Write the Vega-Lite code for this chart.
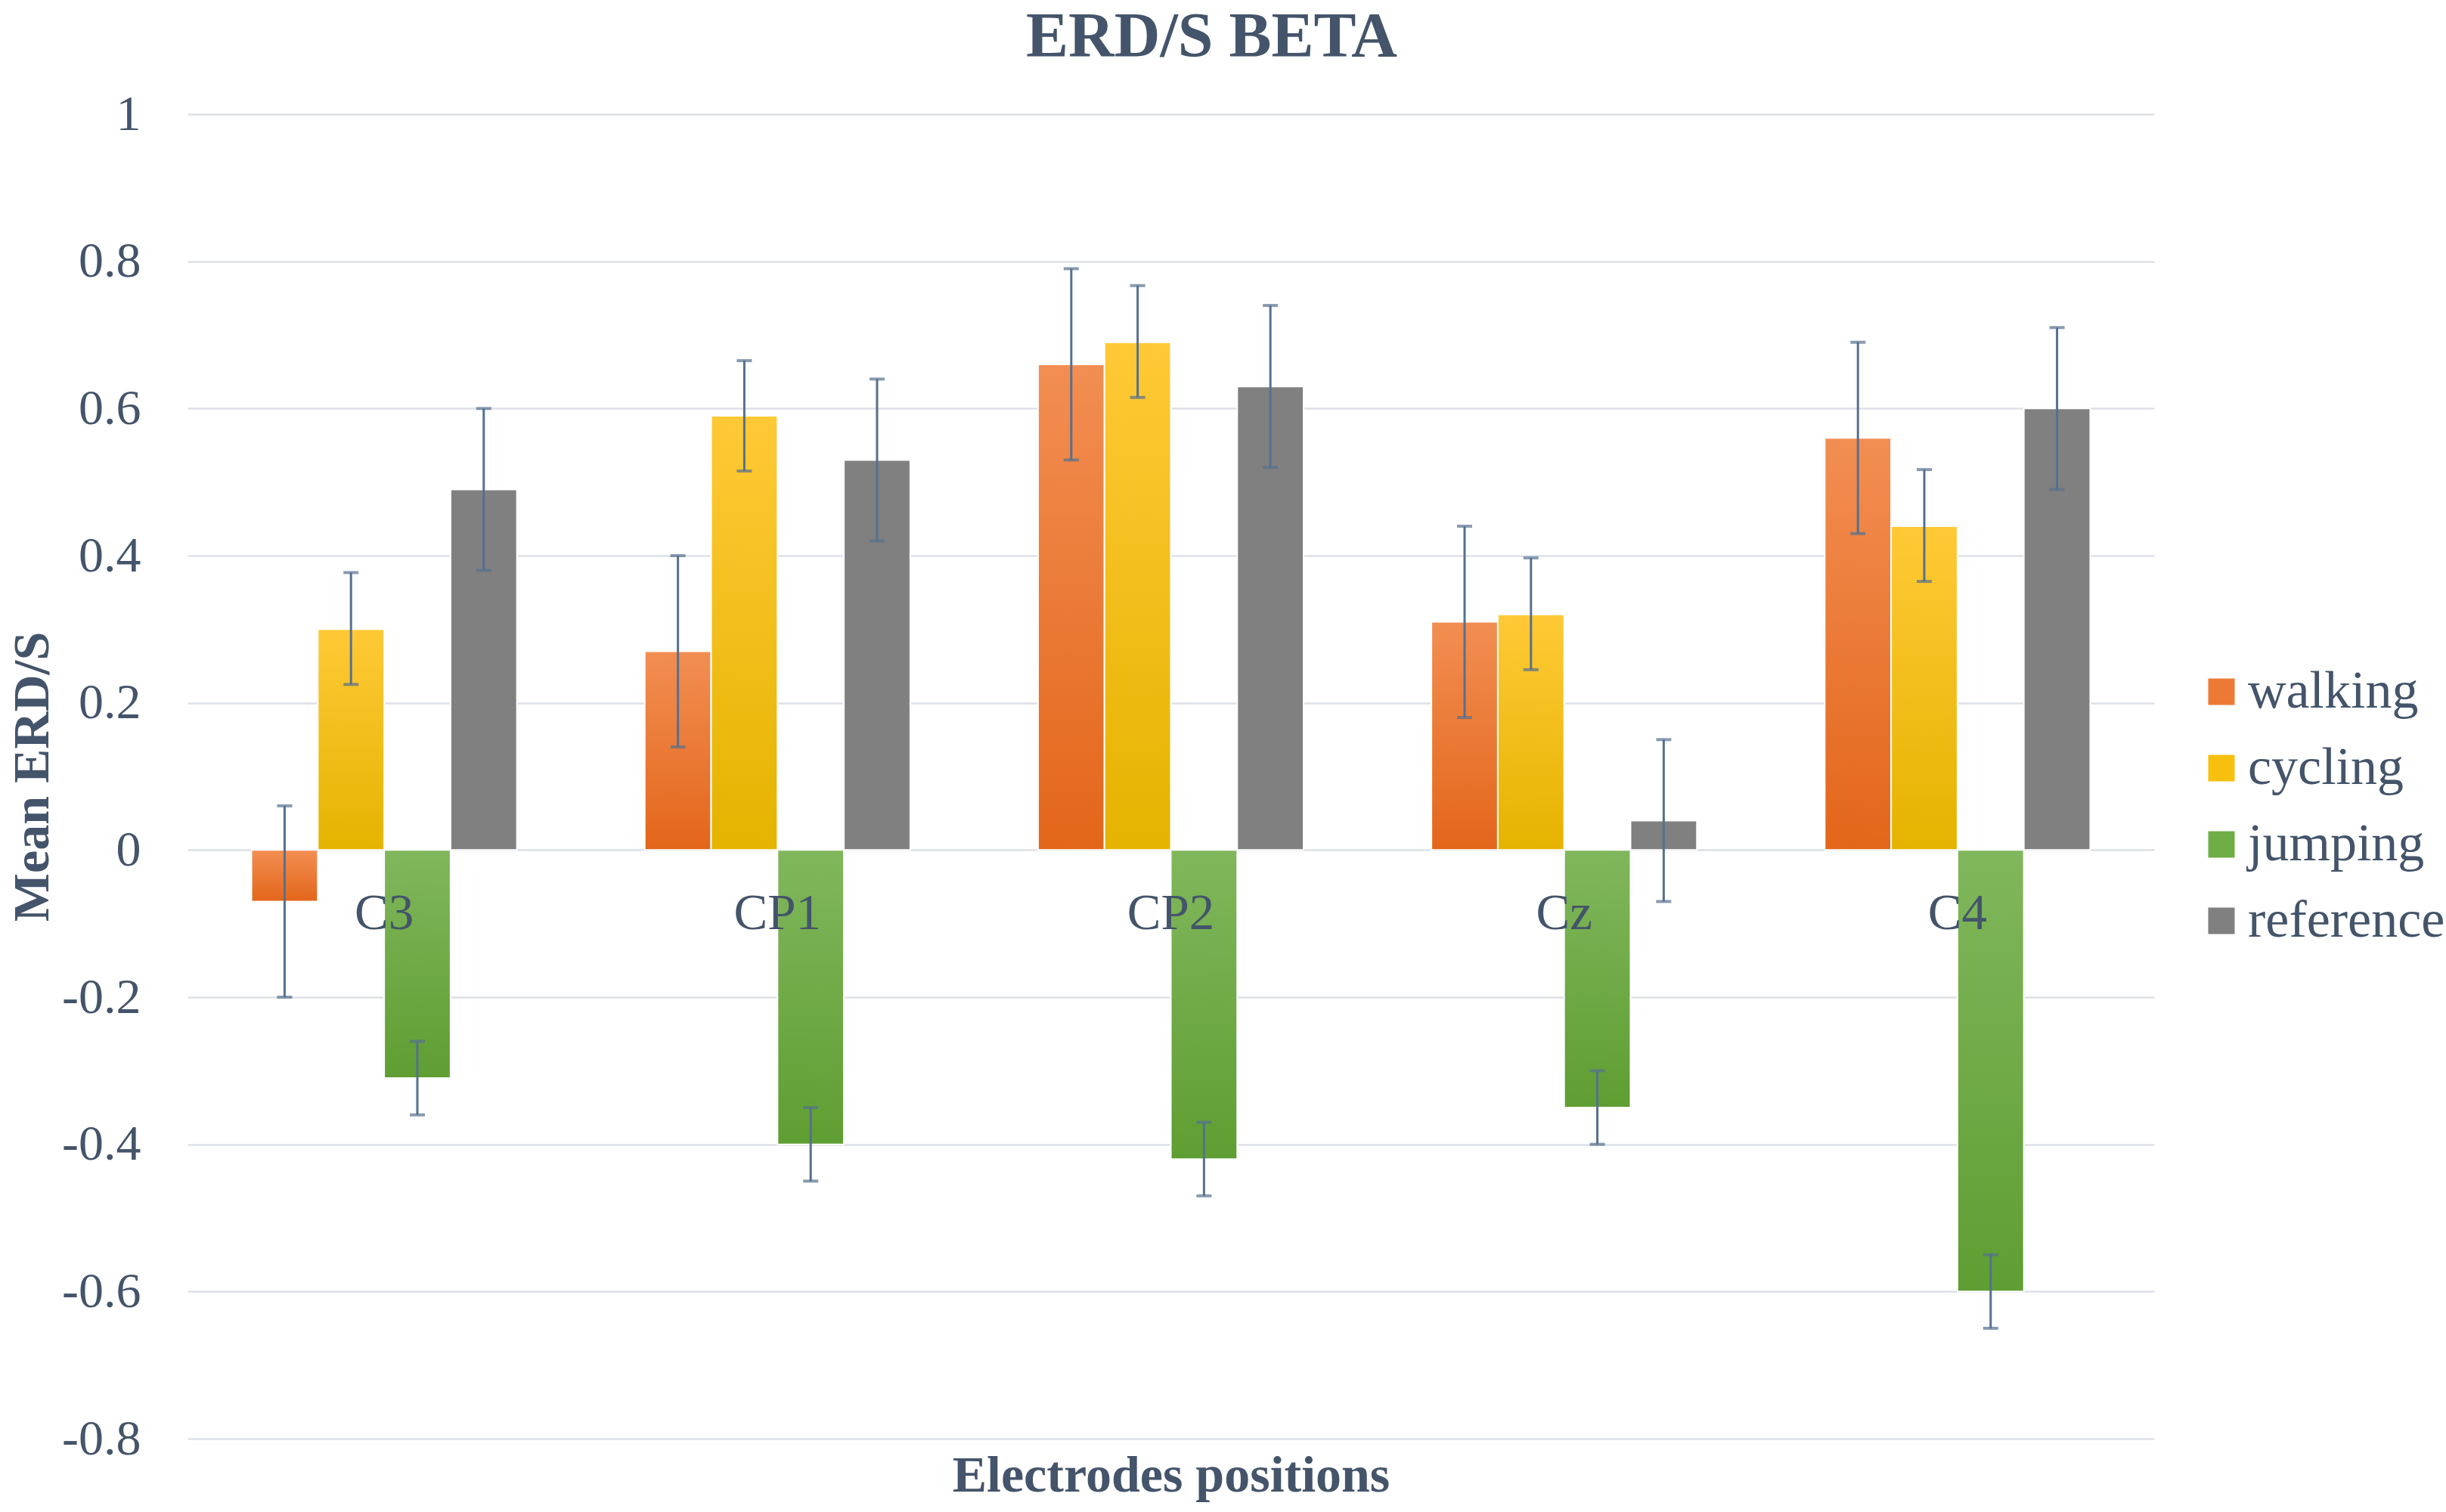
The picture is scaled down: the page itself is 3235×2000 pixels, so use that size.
{
  "$schema": "https://vega.github.io/schema/vega-lite/v6.json",
  "autosize": "none",
  "width": 2601,
  "height": 1752,
  "padding": {"left": 248, "top": 151, "right": 386, "bottom": 97},
  "background": "white",
  "title": {
    "text": "ERD/S BETA",
    "font": "Liberation Serif",
    "fontSize": 84,
    "fontWeight": "bold",
    "color": "#44546a",
    "anchor": "middle",
    "dx": 54,
    "offset": 50,
    "dy": 25
  },
  "data": {
    "values": [
      {"pos": "C3", "act": "walking", "v": -0.07, "lo": -0.2, "hi": 0.06},
      {"pos": "C3", "act": "cycling", "v": 0.30, "lo": 0.225, "hi": 0.377},
      {"pos": "C3", "act": "jumping", "v": -0.31, "lo": -0.36, "hi": -0.26},
      {"pos": "C3", "act": "reference", "v": 0.49, "lo": 0.38, "hi": 0.60},
      {"pos": "CP1", "act": "walking", "v": 0.27, "lo": 0.14, "hi": 0.40},
      {"pos": "CP1", "act": "cycling", "v": 0.59, "lo": 0.515, "hi": 0.665},
      {"pos": "CP1", "act": "jumping", "v": -0.40, "lo": -0.45, "hi": -0.35},
      {"pos": "CP1", "act": "reference", "v": 0.53, "lo": 0.42, "hi": 0.64},
      {"pos": "CP2", "act": "walking", "v": 0.66, "lo": 0.53, "hi": 0.79},
      {"pos": "CP2", "act": "cycling", "v": 0.69, "lo": 0.615, "hi": 0.767},
      {"pos": "CP2", "act": "jumping", "v": -0.42, "lo": -0.47, "hi": -0.37},
      {"pos": "CP2", "act": "reference", "v": 0.63, "lo": 0.52, "hi": 0.74},
      {"pos": "Cz", "act": "walking", "v": 0.31, "lo": 0.18, "hi": 0.44},
      {"pos": "Cz", "act": "cycling", "v": 0.32, "lo": 0.245, "hi": 0.397},
      {"pos": "Cz", "act": "jumping", "v": -0.35, "lo": -0.40, "hi": -0.30},
      {"pos": "Cz", "act": "reference", "v": 0.04, "lo": -0.07, "hi": 0.15},
      {"pos": "C4", "act": "walking", "v": 0.56, "lo": 0.43, "hi": 0.69},
      {"pos": "C4", "act": "cycling", "v": 0.44, "lo": 0.365, "hi": 0.517},
      {"pos": "C4", "act": "jumping", "v": -0.60, "lo": -0.65, "hi": -0.55},
      {"pos": "C4", "act": "reference", "v": 0.60, "lo": 0.49, "hi": 0.71}
    ]
  },
  "encoding": {
    "x": {
      "field": "pos", "type": "nominal",
      "sort": ["C3", "CP1", "CP2", "Cz", "C4"],
      "scale": {"paddingInner": 0.325, "paddingOuter": 0.1625},
      "axis": {
        "labels": false, "ticks": false, "domain": false, "grid": false,
        "title": "Electrodes positions",
        "titleFont": "Liberation Serif", "titleFontSize": 68, "titleFontWeight": "bold",
        "titleColor": "#44546a", "titleBaseline": "alphabetic", "titleY": 69
      }
    }
  },
  "layer": [
    {
      "mark": {"type": "bar"},
      "encoding": {
        "xOffset": {
          "field": "act", "type": "nominal",
          "sort": ["walking", "cycling", "jumping", "reference"],
          "scale": {"paddingInner": 0, "paddingOuter": 0}
        },
        "y": {
          "field": "v", "type": "quantitative",
          "scale": {"domain": [-0.8, 1], "nice": false},
          "axis": {
            "values": [-0.8, -0.6, -0.4, -0.2, 0, 0.2, 0.4, 0.6, 0.8, 1],
            "labelExpr": "'' + datum.value",
            "labelFont": "Liberation Serif", "labelFontSize": 66, "labelColor": "#44546a",
            "labelPadding": 62, "ticks": false, "domain": false,
            "grid": true, "gridColor": "#dde0e6", "gridWidth": 2.5,
            "title": "Mean ERD/S",
            "titleFont": "Liberation Serif", "titleFontSize": 68, "titleFontWeight": "bold",
            "titleColor": "#44546a", "titleX": -185, "titleBaseline": "alphabetic"
          }
        },
        "color": {
          "field": "act", "type": "nominal",
          "sort": ["walking", "cycling", "jumping", "reference"],
          "scale": {
            "domain": ["walking", "cycling", "jumping", "reference"],
            "range": ["#ec7a35", "#f7c00f", "#6fad45", "#808080"]
          },
          "legend": {
            "title": null, "orient": "none", "legendX": 2655, "legendY": 729,
            "padding": 0,
            "symbolType": "square", "symbolSize": 1225, "symbolStrokeWidth": 0,
            "labelFont": "Liberation Serif", "labelFontSize": 70, "labelColor": "#44546a",
            "labelOffset": 0, "rowPadding": 31, "labelLimit": 500
          }
        }
      }
    },
    {
      "mark": {"type": "bar", "stroke": "white", "strokeWidth": 2},
      "encoding": {
        "xOffset": {"field": "act", "type": "nominal", "sort": ["walking", "cycling", "jumping", "reference"]},
        "y": {"field": "v", "type": "quantitative"},
        "fill": {
          "condition": [
            {"test": "datum.act === 'walking'", "value": {"gradient": "linear", "x1": 0, "y1": 0, "x2": 0, "y2": 1, "stops": [{"offset": 0, "color": "#f28e52"}, {"offset": 1, "color": "#e3661a"}]}},
            {"test": "datum.act === 'cycling'", "value": {"gradient": "linear", "x1": 0, "y1": 0, "x2": 0, "y2": 1, "stops": [{"offset": 0, "color": "#ffc936"}, {"offset": 1, "color": "#e5b300"}]}},
            {"test": "datum.act === 'jumping'", "value": {"gradient": "linear", "x1": 0, "y1": 0, "x2": 0, "y2": 1, "stops": [{"offset": 0, "color": "#80b75c"}, {"offset": 1, "color": "#5f9e32"}]}}
          ],
          "value": "#808080"
        }
      }
    },
    {
      "mark": {"type": "rule", "color": "#56708f", "strokeWidth": 3},
      "encoding": {
        "xOffset": {"field": "act", "type": "nominal", "sort": ["walking", "cycling", "jumping", "reference"]},
        "y": {"field": "lo", "type": "quantitative"},
        "y2": {"field": "hi"}
      }
    },
    {
      "transform": [{"fold": ["lo", "hi"], "as": ["end", "ev"]}],
      "mark": {"type": "tick", "color": "#56708f", "size": 20, "thickness": 4, "orient": "horizontal"},
      "encoding": {
        "xOffset": {"field": "act", "type": "nominal", "sort": ["walking", "cycling", "jumping", "reference"]},
        "y": {"field": "ev", "type": "quantitative"}
      }
    },
    {
      "transform": [{"filter": "datum.act === 'walking'"}],
      "mark": {"type": "text", "font": "Liberation Serif", "fontSize": 67, "color": "#44546a", "baseline": "alphabetic", "align": "center", "dy": 105},
      "encoding": {
        "y": {"datum": 0, "type": "quantitative"},
        "text": {"field": "pos"}
      }
    }
  ],
  "config": {
    "view": {"stroke": null}
  }
}
